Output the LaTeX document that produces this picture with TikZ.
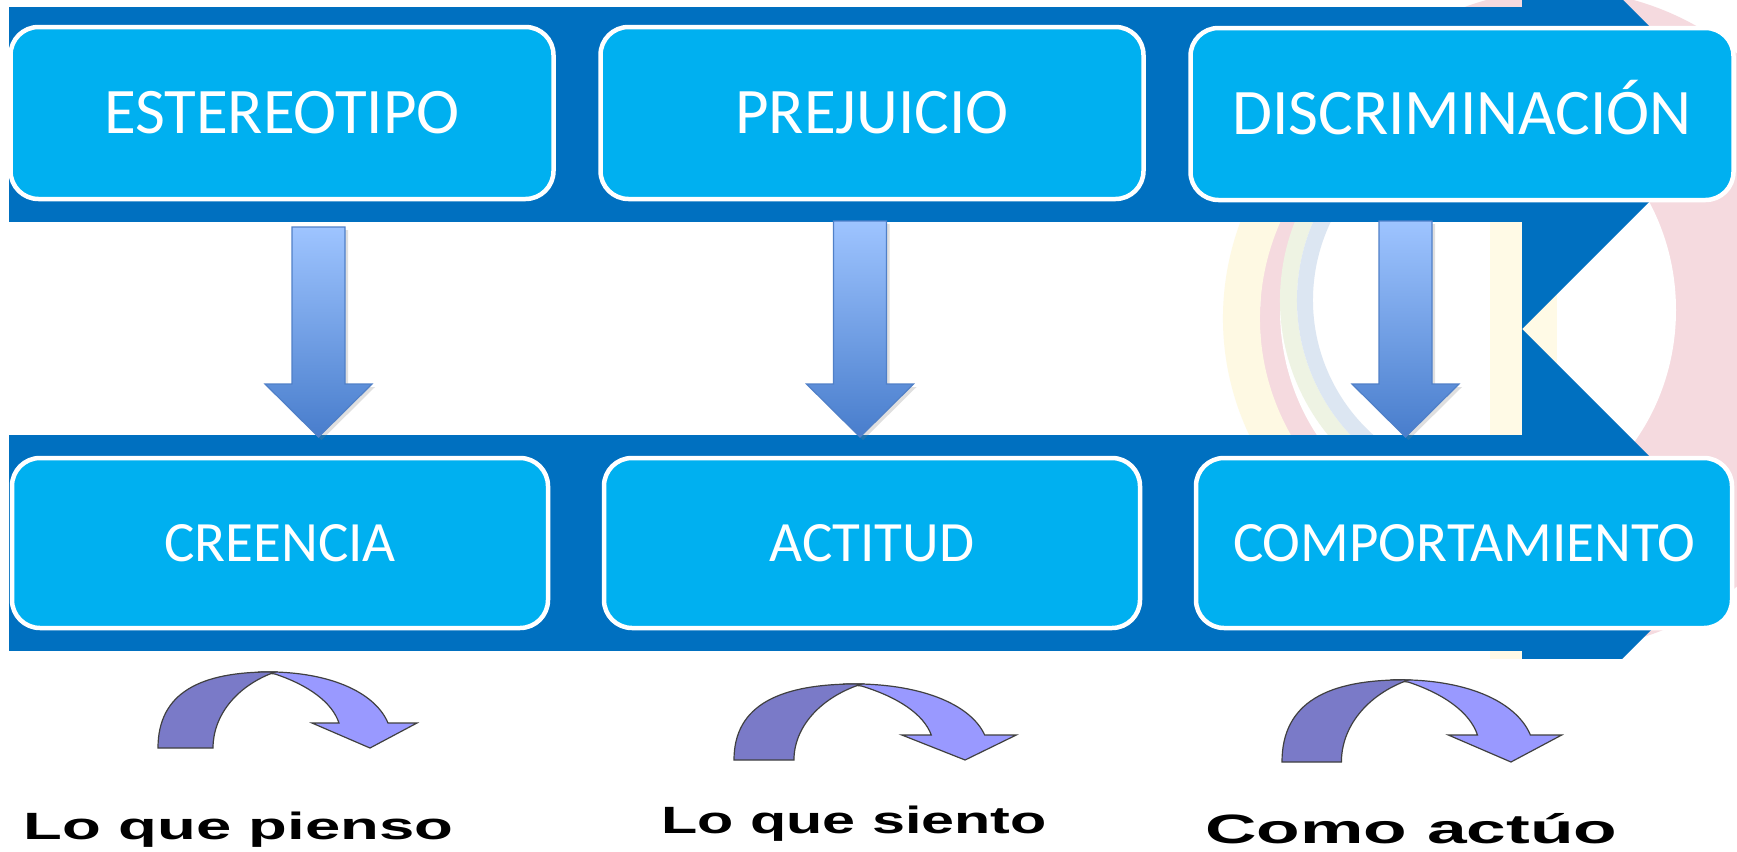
\documentclass[tikz,border=0pt]{standalone}
\usepackage{fontspec}
\setmainfont{Carlito}
\newfontfamily\labelfont{Liberation Sans}
\usetikzlibrary{shadows}
\definecolor{bandblue}{RGB}{0,112,192}
\definecolor{boxblue}{RGB}{0,176,240}
\definecolor{arrtop}{RGB}{158,196,255}
\definecolor{arrbot}{RGB}{72,125,204}
\definecolor{arredge}{RGB}{80,128,200}
\definecolor{cdark}{RGB}{122,122,200}
\definecolor{clight}{RGB}{153,153,255}
\definecolor{lyellow}{RGB}{254,249,227}
\definecolor{lpink}{RGB}{245,218,223}
\definecolor{lgreen}{RGB}{238,243,227}
\definecolor{lblue}{RGB}{220,230,242}
\definecolor{lcream}{RGB}{255,250,230}
\tikzset{
  tbox/.style={draw=white, line width=2.25pt, fill=boxblue, rounded corners=14pt,
    text=white, inner sep=0pt},
  topbox/.style={tbox, minimum width=271.5pt, minimum height=86pt,
    text height=20.9pt, text depth=0pt,
    font=\fontsize{32.5pt}{38pt}\selectfont},
  lowbox/.style={tbox, minimum width=268pt, minimum height=85pt,
    text height=18.4pt, text depth=0pt,
    font=\fontsize{28.5pt}{34pt}\selectfont},
  lbl/.style={inner sep=0pt, anchor=base west, text=black},
  pics/downarr/.style={code={
    \path[drop shadow={opacity=0.25, shadow xshift=1.5pt, shadow yshift=-1.5pt},
      top color=arrtop, bottom color=arrbot, draw=arredge, line width=0.6pt]
      (-26.5,-#1) -- (26.5,-#1) -- (26.5,-53) -- (53.5,-53) -- (0,0)
      -- (-53.5,-53) -- (-26.5,-53) -- cycle;
  }},
  pics/curvarr/.style={code={
    \path[draw=black!75, line width=0.6pt, fill=clight]
      (100,-76) .. controls (170,-78) and (217,-56) .. (230,-25)
      -- (259,-25) -- (212,0) -- (154,-25) -- (181,-25)
      .. controls (174,-46) and (150,-63) .. (117,-74) -- cycle;
    \path[draw=black!75, line width=0.6pt, fill=cdark]
      (0,0) .. controls (0,-55) and (42,-77) .. (117,-76)
      .. controls (78,-62) and (55,-32) .. (55,0) -- cycle;
  }},
}
\begin{document}
\begin{tikzpicture}[x=0.5pt,y=-0.5pt]
\useasboundingbox (0,0) rectangle (1737,852);
\fill[white] (0,0) rectangle (1737,852);
% faint background logo
\begin{scope}
  \clip (0,0) rectangle (1737,717);
  \fill[lpink] (1560,320) ellipse[x radius=300, y radius=330];
  \fill[white] (1478,310) ellipse[x radius=198, y radius=215];
  \draw[lyellow, line width=18.5pt] (1497,318) ++(100:255.5) arc[start angle=100, end angle=260, radius=255.5];
  \draw[lgreen, line width=8.5pt] (1494,300) ++(100:205.5) arc[start angle=100, end angle=260, radius=205.5];
  \draw[lblue, line width=8pt] (1494,300) ++(100:189) arc[start angle=100, end angle=260, radius=189];
  \fill[lcream] (1490,0) rectangle (1557,717);
  \fill[lpink] (1490,0) rectangle (1557,12);
  \draw[lgreen, line width=32.5pt] (1494,185) ++(-82:502.5) arc[start angle=-82, end angle=-45, radius=502.5];
  \draw[lblue, line width=12.5pt] (1494,185) ++(-82:547.5) arc[start angle=-82, end angle=-45, radius=547.5];
\end{scope}
% dark blue bands
\fill[bandblue] (9,7) rectangle (1523,222);
\fill[bandblue] (9,435) rectangle (1523,651);
\begin{scope}
  \clip (0,0) rectangle (1728,852);
  \fill[bandblue] (1522,0) -- (1623,0) -- (1737,114) -- (1522,329) -- (1737,544)
    -- (1622,659) -- (1522,659) -- cycle;
\end{scope}
% boxes
\node[topbox] (est) at (282,113) {ESTEREOTIPO};
\node[topbox] (pre) at (872,113) {PREJUICIO};
\node[topbox] (dis) at (1462,114) {DISCRIMINACIÓN};
\node[lowbox] (cre) at (280,543) {CREENCIA};
\node[lowbox] (act) at (872,543) {ACTITUD};
\node[lowbox] (com) at (1464,543) {COMPORTAMIENTO};
% down block arrows
\coordinate (tip1) at (318.5,437);
\coordinate (tip2) at (860,437);
\coordinate (tip3) at (1405.5,437);
\path (tip1) pic {downarr=210};
\path (tip2) pic {downarr=216};
\path (tip3) pic {downarr=216};
% white strip under the lower band
\fill[white] (0,659) rectangle (1675,717);
% curved arrows
\coordinate (c1) at (158,748);
\coordinate (c2) at (734,760);
\coordinate (c3) at (1282,762);
\path (c1) pic {curvarr};
\path (c2) pic[xscale=1.09] {curvarr};
\path (c3) pic[xscale=1.08, yscale=1.08] {curvarr};
% labels
\node[lbl] (l1) at (23,839) {\labelfont\bfseries\fontsize{19pt}{22pt}\selectfont\scalebox{1.67}[1]{Lo que pienso}};
\node[lbl] (l2) at (661,833) {\labelfont\bfseries\fontsize{19pt}{22pt}\selectfont\scalebox{1.56}[1]{Lo que siento}};
\node[lbl] (l3) at (1205,843) {\labelfont\bfseries\fontsize{20.5pt}{24pt}\selectfont\scalebox{1.74}[1]{Como actúo}};
\end{tikzpicture}
\end{document}
